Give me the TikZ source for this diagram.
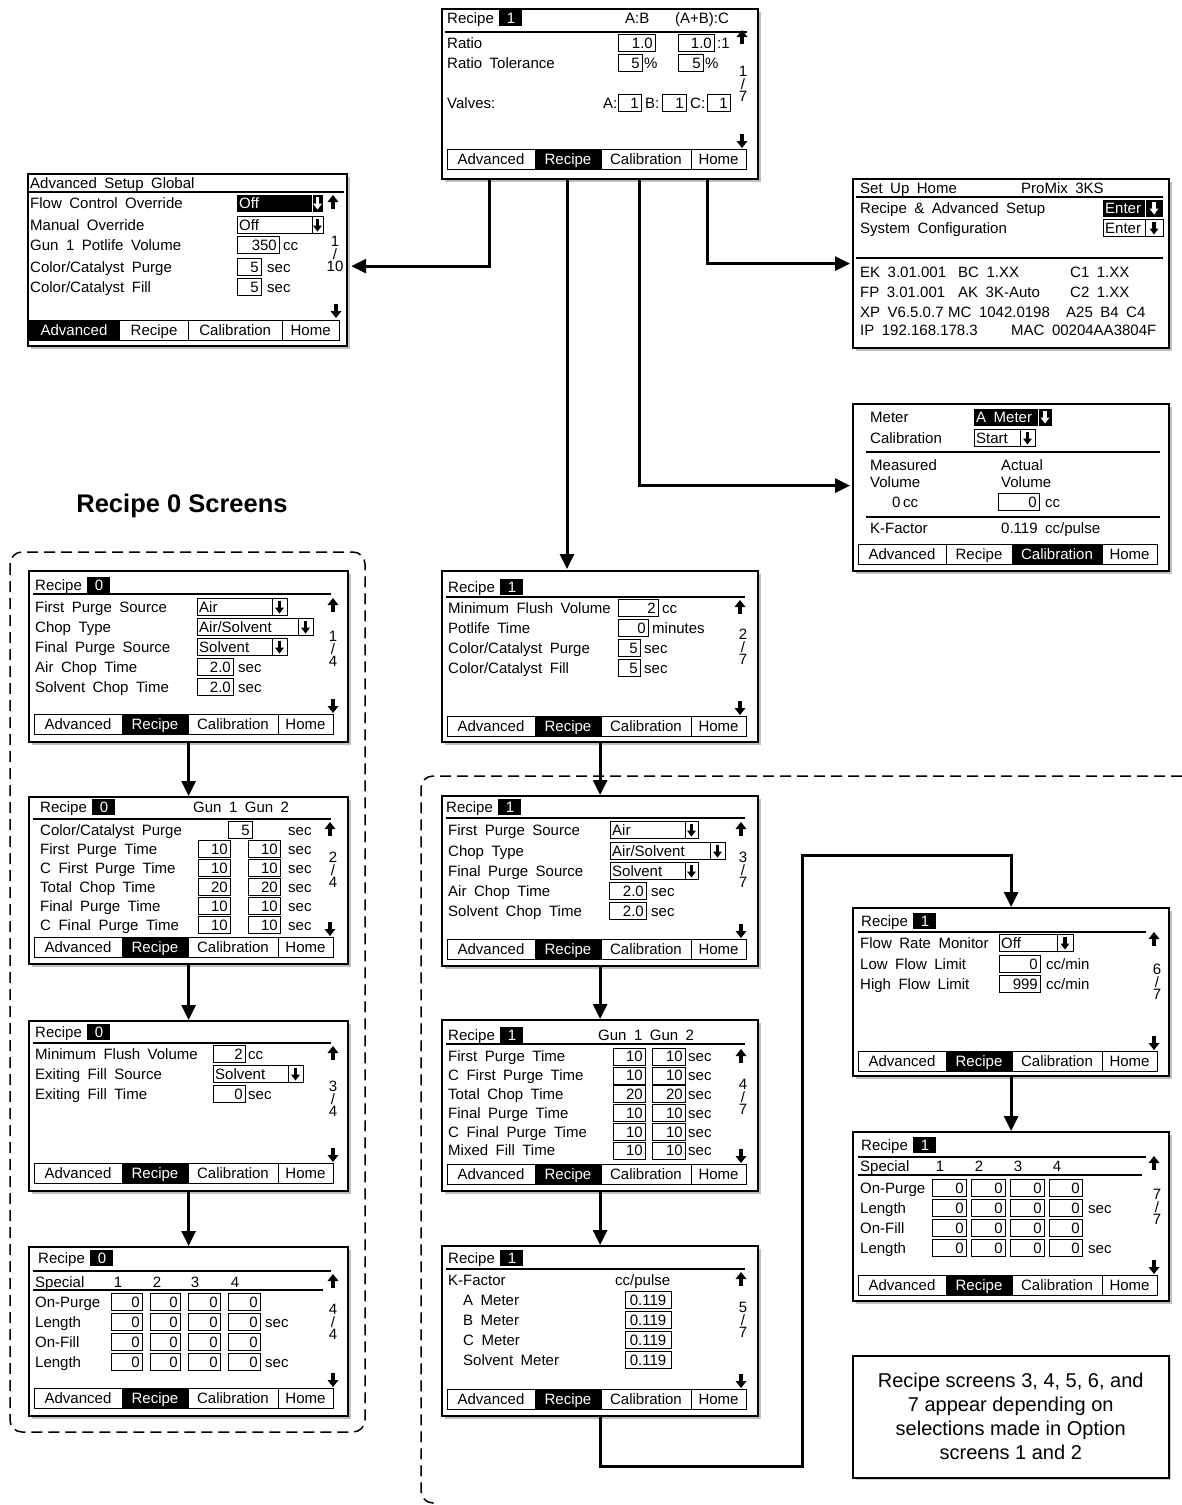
\documentclass[tikz,border=0pt]{standalone}
\usepackage{fontspec}
\setmainfont{Liberation Sans}
\newfontfamily\lcdfam{Liberation Sans}[WordSpace=1.8]
\newcommand{\lcd}{\lcdfam\fontsize{15}{17}\selectfont}
\usetikzlibrary{arrows.meta,calc,shadows}

\tikzset{
  screen/.style={draw, line width=2.2pt, fill=white, inner sep=0pt, anchor=north west,
    drop shadow={shadow xshift=2.5pt, shadow yshift=-2.5pt, fill=black!50}},
  notebox/.style={draw, line width=1.5pt, fill=white, inner sep=0pt, anchor=north west, align=center,
    drop shadow={shadow xshift=2pt, shadow yshift=-2pt, fill=black!40}},
  lbl/.style={font=\lcd, anchor=base west, inner sep=0pt},
  rnum/.style={font=\lcd, anchor=base east, inner sep=0pt},
  cnum/.style={font=\lcd, anchor=base, inner sep=0pt},
  pagetxt/.style={font=\lcdfam\fontsize{15}{12.5}\selectfont, align=center, anchor=north, inner sep=0pt},
  flow/.style={line width=3pt, -{Triangle[length=15pt,width=14pt]}},
  boxln/.style={line width=1pt},
  rule/.style={line width=1.5pt},
  dashbox/.style={line width=1.5pt, dash pattern=on 11pt off 6pt, rounded corners=12pt},
  uparr/.pic={\fill (-5.5,-1) -- (5.5,-1) -- (0,-8) -- cycle; \fill (-1.8,-1.5) rectangle (1.8,6);},
  dnarr/.pic={\fill (-5.5,1) -- (5.5,1) -- (0,8) -- cycle; \fill (-1.8,1.5) rectangle (1.8,-6);},
  ddarr/.pic={\fill (-4.5,0.5) -- (4.5,0.5) -- (0,6.5) -- cycle; \fill (-1.6,1) rectangle (1.6,-6.5);},
}

% value field: x1, x2, baseline, value
\newcommand{\field}[4]{%
  \draw[boxln] (#1,#3-13.5) rectangle (#2,#3+3.5);
  \node[rnum] at (#2-2,#3) {#4};}
% drop-down field: x1, arrow separator, x2, baseline, value
\newcommand{\dropfield}[5]{%
  \draw[boxln] (#1,#4-13.5) rectangle (#3,#4+3.5);
  \draw[boxln] (#2,#4-13.5) -- (#2,#4+3.5);
  \node[lbl] at (#1+2,#4) {#5};
  \pic at ({(#2+#3)/2},#4-5) {ddarr};}
\newcommand{\dropfieldinv}[5]{%
  \fill (#1,#4-13.5) rectangle (#3,#4+3.5);
  \draw[boxln, white] (#2,#4-13.5) -- (#2,#4+3.5);
  \node[lbl, text=white] at (#1+2,#4) {#5};
  \pic[white] at ({(#2+#3)/2},#4-5) {ddarr};}
% heading: baseline, x of number box, recipe number
\newcommand{\rechead}[3]{%
  \node[lbl] at (#2-52,#1) {Recipe};
  \fill (#2,#1-13.5) rectangle (#2+23,#1+3);
  \node[cnum, text=white] at (#2+12,#1) {#3};}
% page indicator: x, top baseline, page, count
\newcommand{\pageind}[4]{%
  \node[pagetxt] at (#1,#2-11) {#3\\/\\#4};}
% soft key bar: top, active key
\newcommand{\tabbar}[2]{%
  \foreach \tname/\ta/\tb [count=\tn] in {Advanced/6/94,Recipe/94/160,Calibration/160/250,Home/250/305}{%
    \ifnum\tn=#2\relax
      \filldraw[boxln] (\ta,#1) rectangle (\tb,#1+20);
      \node[cnum, text=white] at ({(\ta+\tb)/2},#1+15) {\tname};
    \else
      \draw[boxln] (\ta,#1) rectangle (\tb,#1+20);
      \node[cnum] at ({(\ta+\tb)/2},#1+15) {\tname};
    \fi}}

\begin{document}
\begin{tikzpicture}[x=1pt, y=-1pt]
  \useasboundingbox (0,0) rectangle (1182,1505);

  % dashed groups
  \draw[dashbox] (10,552) rectangle (365,1432);
  \draw[dashbox] (1182,776) -- (421,776) -- (421,1503) -- (434,1503);

  % recipe 1, page 1
  \begin{scope}[shift={(441,8)}]
    \node[screen, minimum width=316pt, minimum height=170pt] (top) at (0,0) {};
    \rechead{15}{58}{1}
    \node[lbl] at (184,15) {A:B};
    \node[lbl] at (234,15) {(A+B):C};
    \draw[rule] (4,24) -- (306,24);
    \node[lbl] at (6,40) {Ratio};
    \field{177}{214}{40}{1.0}
    \field{237}{273}{40}{1.0}
    \node[lbl] at (276,40) {:1};
    \node[lbl] at (6,60) {Ratio Tolerance};
    \field{177}{201}{60}{5} \node[lbl] at (203,60) {\%};
    \field{237}{262}{60}{5} \node[lbl] at (264,60) {\%};
    \node[lbl] at (6,100) {Valves:};
    \node[lbl] at (162,100) {A:}; \field{177}{200}{100}{1}
    \node[lbl] at (204,100) {B:}; \field{221}{245}{100}{1}
    \node[lbl] at (249,100) {C:}; \field{266}{289}{100}{1}
    \pic at (301,30) {uparr};
    \pageind{302}{69}{1}{7}
    \pic at (301,132) {dnarr};
    \tabbar{141}{2}
  \end{scope}

  % advanced setup
  \begin{scope}[shift={(27,173)}]
    \node[screen, minimum width=319pt, minimum height=172pt] (adv) at (0,0) {};
    \node[lbl] at (3,15) {Advanced Setup Global};
    \draw[rule] (0,19) -- (317,19);
    \node[lbl] at (3,35) {Flow Control Override};
    \dropfieldinv{210}{285}{296}{35}{Off}
    \pic at (306,30) {uparr};
    \node[lbl] at (3,57) {Manual Override};
    \dropfield{210}{285}{296}{57}{Off}
    \node[lbl] at (3,77) {Gun 1 Potlife Volume};
    \field{210}{252}{77}{350} \node[lbl] at (256,77) {cc};
    \node[lbl] at (3,99) {Color/Catalyst Purge};
    \field{210}{234}{99}{5} \node[lbl] at (240,99) {sec};
    \node[lbl] at (3,119) {Color/Catalyst Fill};
    \field{210}{234}{119}{5} \node[lbl] at (240,119) {sec};
    \pageind{308}{74}{1}{10}
    \pic at (309,137) {dnarr};
    \begin{scope}[xshift=-5pt, xscale=1.04]
      \tabbar{147}{1}
    \end{scope}
  \end{scope}

  % set up home
  \begin{scope}[shift={(852,178)}]
    \node[screen, minimum width=316pt, minimum height=169pt] (home) at (0,0) {};
    \node[lbl] at (8,15) {Set Up Home};
    \node[lbl] at (169,15) {ProMix 3KS};
    \draw[rule] (4,19) -- (311,19);
    \node[lbl] at (8,35) {Recipe \& Advanced Setup};
    \dropfieldinv{251}{293}{311}{35}{Enter}
    \node[lbl] at (8,55) {System Configuration};
    \dropfield{251}{293}{311}{55}{Enter}
    \draw[rule] (4,80) -- (311,80);
    \node[lbl] at (8,99) {EK 3.01.001};
    \node[lbl] at (106,99) {BC 1.XX};
    \node[lbl] at (218,99) {C1 1.XX};
    \node[lbl] at (8,119) {FP 3.01.001};
    \node[lbl] at (106,119) {AK 3K-Auto};
    \node[lbl] at (218,119) {C2 1.XX};
    \node[lbl] at (8,139) {XP V6.5.0.7};
    \node[lbl] at (96,139) {MC 1042.0198};
    \node[lbl] at (214,139) {A25 B4 C4};
    \node[lbl] at (8,157) {IP 192.168.178.3};
    \node[lbl] at (159,157) {MAC 00204AA3804F};
  \end{scope}

  % calibration
  \begin{scope}[shift={(852,403)}]
    \node[screen, minimum width=316pt, minimum height=167pt] (calib) at (0,0) {};
    \node[lbl] at (18,19) {Meter};
    \dropfieldinv{122}{186}{200}{19}{A Meter}
    \node[lbl] at (18,40) {Calibration};
    \dropfield{122}{168}{183}{40}{Start}
    \draw[rule] (14,49) -- (308,49);
    \node[lbl] at (18,67) {Measured};
    \node[lbl] at (18,84) {Volume};
    \node[lbl] at (149,67) {Actual};
    \node[lbl] at (149,84) {Volume};
    \node[lbl] at (40,104) {0\,cc};
    \field{146}{187}{104}{0} \node[lbl] at (193,104) {cc};
    \draw[rule] (14,114) -- (308,114);
    \node[lbl] at (18,130) {K-Factor};
    \node[lbl] at (149,130) {0.119 cc/pulse};
    \tabbar{141}{3}
  \end{scope}

  % heading of recipe 0 group
  \node[font=\bfseries\fontsize{25.5}{30}\selectfont] (head) at (182,506) {Recipe 0 Screens};

  % recipe 0, page 1
  \begin{scope}[shift={(28,570)}]
    \node[screen, minimum width=319pt, minimum height=171pt] (rz1) at (0,0) {};
    \rechead{20}{59}{0}
    \draw[rule] (5,24) -- (303,24);
    \node[lbl] at (7,42) {First Purge Source}; \dropfield{169}{244}{259}{42}{Air}
    \node[lbl] at (7,62) {Chop Type}; \dropfield{169}{270}{285}{62}{Air/Solvent}
    \node[lbl] at (7,82) {Final Purge Source}; \dropfield{169}{244}{259}{82}{Solvent}
    \node[lbl] at (7,102) {Air Chop Time}; \field{169}{205}{102}{2.0} \node[lbl] at (210,102) {sec};
    \node[lbl] at (7,122) {Solvent Chop Time}; \field{169}{205}{122}{2.0} \node[lbl] at (210,122) {sec};
    \pic at (305,36) {uparr};
    \pageind{305}{72}{1}{4}
    \pic at (305,135) {dnarr};
    \tabbar{144}{2}
  \end{scope}

  % recipe 0, page 2
  \begin{scope}[shift={(28,796)}]
    \node[screen, minimum width=319pt, minimum height=167pt] (rz2) at (0,0) {};
    \rechead{16}{64}{0}
    \node[lbl] at (165,16) {Gun 1 Gun 2};
    \draw[rule] (5,23) -- (303,23);
    \node[lbl] at (12,39) {Color/Catalyst Purge}; \field{200}{224}{39}{5} \node[lbl] at (260,39) {sec};
    \foreach \nm/\v [count=\n] in {First Purge Time/10,C First Purge Time/10,Total Chop Time/20,Final Purge Time/10,C Final Purge Time/10}{
      \pgfmathsetmacro{\yb}{39+19*\n}
      \node[lbl] at (12,\yb) {\nm};
      \field{170}{202}{\yb}{\v}
      \field{220}{252}{\yb}{\v}
      \node[lbl] at (260,\yb) {sec};
    }
    \pic at (302,34) {uparr};
    \pageind{305}{67}{2}{4}
    \pic at (302,132) {dnarr};
    \tabbar{141}{2}
  \end{scope}

  % recipe 0, page 3
  \begin{scope}[shift={(28,1020)}]
    \node[screen, minimum width=319pt, minimum height=170pt] (rz3) at (0,0) {};
    \rechead{17}{59}{0}
    \draw[rule] (5,23) -- (303,23);
    \node[lbl] at (7,39) {Minimum Flush Volume}; \field{185}{217}{39}{2} \node[lbl] at (220,39) {cc};
    \node[lbl] at (7,59) {Exiting Fill Source}; \dropfield{185}{260}{275}{59}{Solvent}
    \node[lbl] at (7,79) {Exiting Fill Time}; \field{185}{217}{79}{0} \node[lbl] at (220,79) {sec};
    \pic at (305,34) {uparr};
    \pageind{305}{72}{3}{4}
    \pic at (305,134) {dnarr};
    \tabbar{143}{2}
  \end{scope}

  % recipe 0, page 4
  \begin{scope}[shift={(28,1246)}]
    \node[screen, minimum width=319pt, minimum height=169pt] (rz4) at (0,0) {};
    \rechead{17}{62}{0}
    \draw[rule] (5,25) -- (303,25);
    \node[lbl] at (7,41) {Special};
    \foreach \c/\x in {1/90,2/129,3/167,4/207}{\node[cnum] at (\x,41) {\c};}
    \draw[rule] (5,44) -- (295,44);
    \foreach \nm/\s [count=\n] in {On-Purge/,Length/sec,On-Fill/,Length/sec}{
      \pgfmathsetmacro{\yb}{41+20*\n}
      \node[lbl] at (7,\yb) {\nm};
      \foreach \xa/\xb in {83/114,122/152,160/192,200/232}{\field{\xa}{\xb}{\yb}{0}}
      \node[lbl] at (237,\yb) {\s};
    }
    \pic at (305,36) {uparr};
    \pageind{305}{69}{4}{4}
    \pic at (305,133) {dnarr};
    \tabbar{142}{2}
  \end{scope}

  % recipe 1, page 2
  \begin{scope}[shift={(441,570)}]
    \node[screen, minimum width=316pt, minimum height=171pt] (ro2) at (0,0) {};
    \rechead{22}{59}{1}
    \draw[rule] (5,27) -- (304,27);
    \node[lbl] at (7,43) {Minimum Flush Volume}; \field{177}{217}{43}{2} \node[lbl] at (221,43) {cc};
    \node[lbl] at (7,63) {Potlife Time}; \field{177}{207}{63}{0} \node[lbl] at (211,63) {minutes};
    \node[lbl] at (7,83) {Color/Catalyst Purge}; \field{177}{199}{83}{5} \node[lbl] at (203,83) {sec};
    \node[lbl] at (7,103) {Color/Catalyst Fill}; \field{177}{199}{103}{5} \node[lbl] at (203,103) {sec};
    \pic at (299,38) {uparr};
    \pageind{302}{70}{2}{7}
    \pic at (299,137) {dnarr};
    \tabbar{146}{2}
  \end{scope}

  % recipe 1, page 3
  \begin{scope}[shift={(441,795)}]
    \node[screen, minimum width=316pt, minimum height=170pt] (ro3) at (0,0) {};
    \rechead{17}{57}{1}
    \draw[rule] (5,23) -- (304,23);
    \node[lbl] at (7,40) {First Purge Source}; \dropfield{169}{244}{257}{40}{Air}
    \node[lbl] at (7,61) {Chop Type}; \dropfield{169}{269}{284}{61}{Air/Solvent}
    \node[lbl] at (7,81) {Final Purge Source}; \dropfield{169}{244}{257}{81}{Solvent}
    \node[lbl] at (7,101) {Air Chop Time}; \field{168}{205}{101}{2.0} \node[lbl] at (210,101) {sec};
    \node[lbl] at (7,121) {Solvent Chop Time}; \field{168}{205}{121}{2.0} \node[lbl] at (210,121) {sec};
    \pic at (300,35) {uparr};
    \pageind{302}{68}{3}{7}
    \pic at (300,135) {dnarr};
    \tabbar{144}{2}
  \end{scope}

  % recipe 1, page 4
  \begin{scope}[shift={(441,1019)}]
    \node[screen, minimum width=316pt, minimum height=171pt] (ro4) at (0,0) {};
    \rechead{21}{59}{1}
    \node[lbl] at (157,21) {Gun 1 Gun 2};
    \draw[rule] (5,25) -- (304,25);
    \foreach \nm/\v [count=\n] in {First Purge Time/10,C First Purge Time/10,Total Chop Time/20,Final Purge Time/10,C Final Purge Time/10,Mixed Fill Time/10}{
      \pgfmathsetmacro{\yb}{24+18.8*\n}
      \node[lbl] at (7,\yb) {\nm};
      \field{172}{204}{\yb}{\v}
      \field{211}{244}{\yb}{\v}
      \node[lbl] at (247,\yb) {sec};
    }
    \pic at (300,38) {uparr};
    \pageind{302}{71}{4}{7}
    \pic at (300,136) {dnarr};
    \tabbar{145}{2}
  \end{scope}

  % recipe 1, page 5
  \begin{scope}[shift={(441,1245)}]
    \node[screen, minimum width=316pt, minimum height=170pt] (ro5) at (0,0) {};
    \rechead{18}{59}{1}
    \draw[rule] (5,24) -- (304,24);
    \node[lbl] at (7,40) {K-Factor};
    \node[lbl] at (174,40) {cc/pulse};
    \foreach \nm [count=\n] in {A Meter,B Meter,C Meter,Solvent Meter}{
      \pgfmathsetmacro{\yb}{40+20*\n}
      \node[lbl] at (22,\yb) {\nm};
      \draw[boxln] (184,\yb-13.5) rectangle (230,\yb+3.5);
      \node[cnum] at (207,\yb) {0.119};
    }
    \pic at (300,35) {uparr};
    \pageind{302}{68}{5}{7}
    \pic at (300,135) {dnarr};
    \tabbar{144}{2}
  \end{scope}

  % recipe 1, page 6
  \begin{scope}[shift={(852,907)}]
    \node[screen, minimum width=316pt, minimum height=168pt] (ro6) at (0,0) {};
    \rechead{19}{61}{1}
    \draw[rule] (6,25) -- (294,25);
    \node[lbl] at (8,41) {Flow Rate Monitor}; \dropfield{147}{205}{221}{41}{Off}
    \node[lbl] at (8,62) {Low Flow Limit}; \field{147}{188}{62}{0} \node[lbl] at (194,62) {cc/min};
    \node[lbl] at (8,82) {High Flow Limit}; \field{147}{188}{82}{999} \node[lbl] at (194,82) {cc/min};
    \pic at (302,33) {uparr};
    \pageind{305}{68}{6}{7}
    \pic at (302,135) {dnarr};
    \tabbar{144}{2}
  \end{scope}

  % recipe 1, page 7
  \begin{scope}[shift={(852,1131)}]
    \node[screen, minimum width=316pt, minimum height=169pt] (ro7) at (0,0) {};
    \rechead{19}{61}{1}
    \draw[rule] (6,26) -- (294,26);
    \node[lbl] at (8,40) {Special};
    \foreach \c/\x in {1/88,2/127,3/166,4/205}{\node[cnum] at (\x,40) {\c};}
    \draw[rule] (6,44) -- (290,44);
    \foreach \nm/\s [count=\n] in {On-Purge/,Length/sec,On-Fill/,Length/sec}{
      \pgfmathsetmacro{\yb}{42+20*\n}
      \node[lbl] at (8,\yb) {\nm};
      \foreach \xa/\xb in {80/114,119/153,158/192,197/230}{\field{\xa}{\xb}{\yb}{0}}
      \node[lbl] at (236,\yb) {\s};
    }
    \pic at (302,33) {uparr};
    \pageind{305}{69}{7}{7}
    \pic at (302,135) {dnarr};
    \tabbar{144}{2}
  \end{scope}

  % note
  \node[notebox, minimum width=316pt, minimum height=122pt, font=\fontsize{20}{24}\selectfont] (note) at (852,1355)
    {Recipe screens 3, 4, 5, 6, and\\7 appear depending on\\selections made in Option\\screens 1 and 2};

  % connectors
  \coordinate (jog) at (802,1466);
  \coordinate (bend) at (802,855);
  \draw[flow] ($(top.south west)+(48,0)$) |- ($(adv.east)+(3,6)$);
  \draw[flow] ($(top.south west)+(126,0)$) -- ($(ro2.north west)+(126,-1)$);
  \draw[flow] ($(top.south west)+(198,0)$) |- ($(calib.west)+(-2,-2)$);
  \draw[flow] ($(top.south west)+(266,0)$) |- ($(home.west)+(-2,0)$);
  \draw[flow] (rz1.south) -- (rz2.north);
  \draw[flow] (rz2.south) -- (rz3.north);
  \draw[flow] (rz3.south) -- (rz4.north);
  \draw[flow] (ro2.south) -- (ro3.north);
  \draw[flow] (ro3.south) -- (ro4.north);
  \draw[flow] (ro4.south) -- (ro5.north);
  \draw[flow] (ro5.south) |- (jog) -- (bend) -| (ro6.north);
  \draw[flow] (ro6.south) -- (ro7.north);
\end{tikzpicture}
\end{document}
